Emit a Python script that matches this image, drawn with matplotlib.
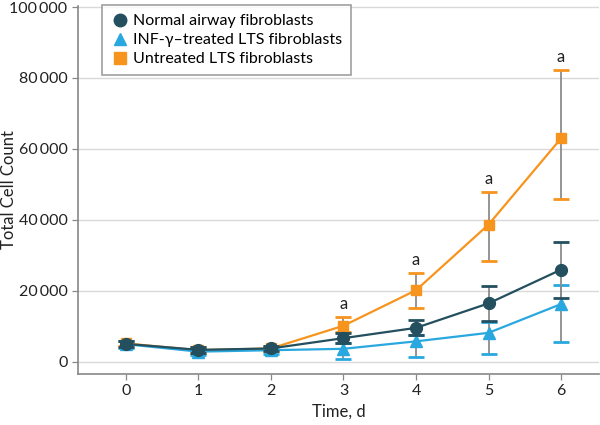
import matplotlib
matplotlib.use("Agg")
from matplotlib import pyplot as plt
from matplotlib.ticker import FuncFormatter

plt.rcParams["font.family"] = ["Lato", "DejaVu Sans"]

days = [0, 1, 2, 3, 4, 5, 6]

# Normal airway fibroblasts
normal_mean = [5100, 3400, 3800, 6700, 9600, 16500, 26000]
normal_lo = [900, 800, 800, 1400, 2000, 5100, 7900]
normal_hi = [900, 800, 800, 1500, 2200, 5000, 7700]

# INF-gamma-treated LTS fibroblasts
inf_mean = [5000, 2900, 3300, 3700, 5800, 8200, 16300]
inf_lo = [1000, 1000, 1100, 2900, 4300, 5900, 10800]
inf_hi = [1000, 900, 900, 1600, 1800, 3000, 5400]

# Untreated LTS fibroblasts
untr_mean = [5200, 3300, 3800, 10200, 20200, 38700, 63000]
untr_lo = [800, 800, 700, 1800, 4900, 10400, 17200]
untr_hi = [800, 800, 700, 2400, 4800, 9100, 19300]

labels = ["Normal airway fibroblasts", "INF-γ–treated LTS fibroblasts", "Untreated LTS fibroblasts"]

sig_days = [3, 4, 5, 6]
sig_label = "a"

C_NORMAL = "#234f5e"
C_INF = "#29a8e0"
C_UNTR = "#f7941d"
C_ERR = "#8c8c8c"

fig = plt.figure(figsize=(6, 4.25), dpi=100)
ax = fig.add_axes([0.13, 0.12, 0.868, 0.866])


def draw(mean, lo, hi, color, marker, ms, z):
    line, caps, bars = ax.errorbar(days, mean, yerr=[lo, hi], color=color, marker=marker,
                                   markersize=ms, linewidth=1.6, ecolor=C_ERR, elinewidth=1.3,
                                   capsize=6, capthick=2, zorder=z)
    for c in caps:
        c.set_color(color)
        c.set_markeredgecolor(color)
        c.set_zorder(z)
    for b in bars:
        b.set_zorder(z - 0.5)


draw(normal_mean, normal_lo, normal_hi, C_NORMAL, "o", 8.5, 5)
draw(inf_mean, inf_lo, inf_hi, C_INF, "^", 9, 4)
draw(untr_mean, untr_lo, untr_hi, C_UNTR, "s", 7.5, 3)

for d in sig_days:
    i = days.index(d)
    ax.text(d, untr_mean[i] + untr_hi[i] + 1500, sig_label, ha="center", va="bottom",
            fontsize=12, color="#222222")

ax.set_xlim(-0.66, 6.52)
ax.set_ylim(-3400, 100300)
ax.set_xticks(days)
ax.set_yticks(range(0, 100001, 20000))
ax.yaxis.set_major_formatter(FuncFormatter(lambda v, p: f"{int(v):,}".replace(",", "\u2009")))
ax.tick_params(labelsize=11.5, colors="#222222", length=4, width=0.9, color="#888888")
ax.grid(axis="y", color="#d9d9d9", linewidth=1)
ax.set_axisbelow(True)
for s in ["top", "right"]:
    ax.spines[s].set_visible(False)
for s in ["left", "bottom"]:
    ax.spines[s].set_color("#888888")
    ax.spines[s].set_linewidth(1.2)

ax.set_xlabel("Time, d", fontsize=12, color="#222222", labelpad=4)
ax.set_ylabel("Total Cell Count", fontsize=12, color="#222222")
ax.yaxis.set_label_coords(-0.118, 0.5)

handles = [
    plt.Line2D([], [], color=C_NORMAL, marker="o", linestyle="none", markersize=9),
    plt.Line2D([], [], color=C_INF, marker="^", linestyle="none", markersize=9),
    plt.Line2D([], [], color=C_UNTR, marker="s", linestyle="none", markersize=8),
]
leg = ax.legend(handles, labels,
                loc="upper left", bbox_to_anchor=(0.046, 1.002), borderaxespad=0,
                fontsize=11.5, frameon=True, fancybox=False, edgecolor="#888888",
                handletextpad=0.2, borderpad=0.55, labelspacing=0.3, handlelength=1.2)
leg.get_frame().set_linewidth(1.2)

fig.savefig("out.png", dpi=100)
